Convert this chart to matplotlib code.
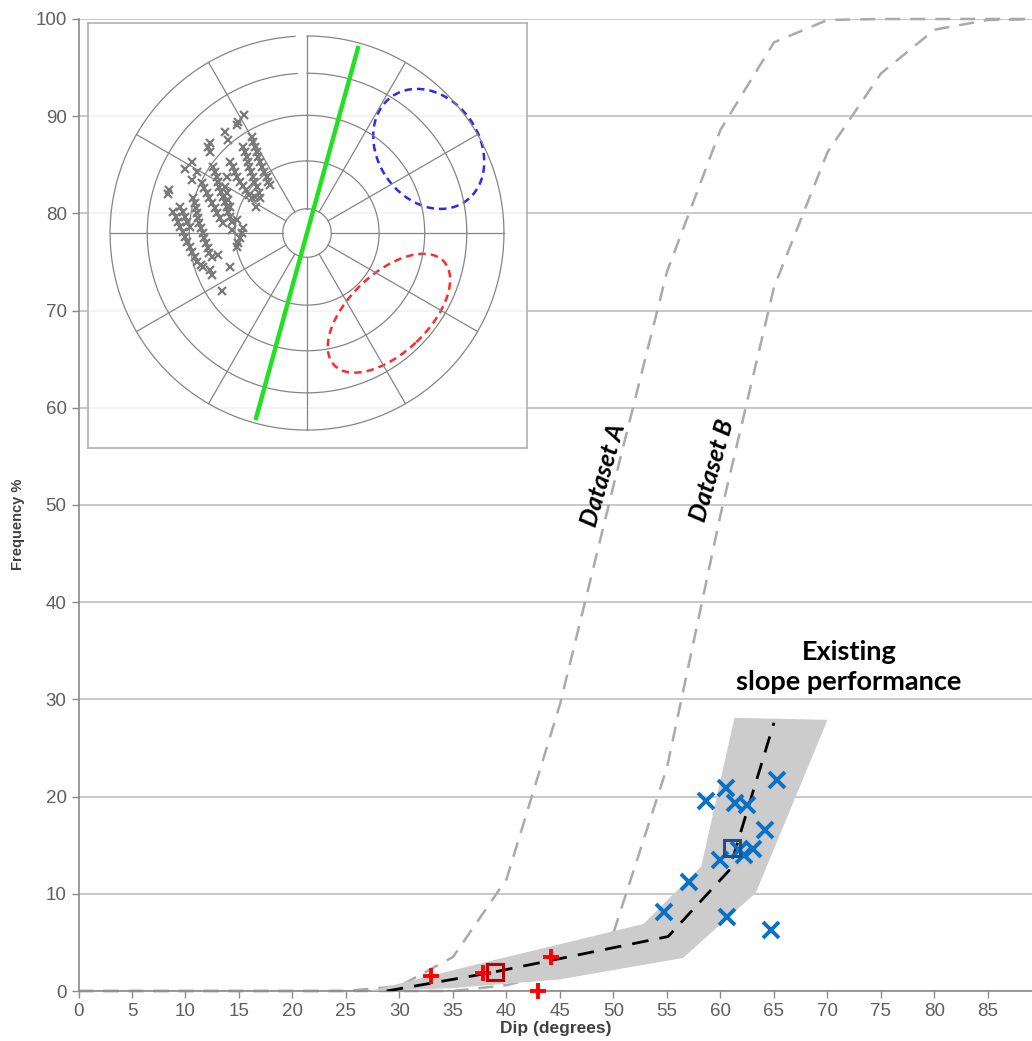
import numpy as np
import matplotlib
matplotlib.use("Agg")
import matplotlib.pyplot as plt
from matplotlib.patches import Ellipse, Polygon

# ---------------- main chart data ----------------
dip_grid = [0, 5, 10, 15, 20, 25, 30, 35, 40, 45, 50, 55, 60, 65, 70, 75, 80, 85, 90]
dataset_a = [0, 0, 0, 0, 0, 0, 0.5, 3.5, 11.5, 29.5, 52, 74, 88.6, 97.6, 99.9, 100, 100, 100, 100]
dataset_b = [0, 0, 0, 0, 0, 0, 0, 0, 0.6, 2.0, 6.0, 23, 49, 72.4, 86.3, 94.4, 98.9, 99.9, 100]

band_upper_x = [27.2, 37.8, 52.8, 58.2, 61.3, 70.0]
band_upper_y = [0, 2.9, 6.9, 12.8, 28.1, 27.9]
band_lower_x = [70.0, 63.3, 56.5, 45.0, 35.0, 27.2]
band_lower_y = [27.9, 10.1, 3.4, 1.2, 0.3, 0]

median_x = [28.8, 38.6, 55.1, 60.8, 65.0]
median_y = [0, 1.9, 5.6, 12.4, 27.6]

red_plus_x = [32.9, 37.8, 44.2, 42.9]
red_plus_y = [1.55, 1.9, 3.5, 0.0]
red_square_x = [38.9]
red_square_y = [2.0]

blue_x_x = [65.3, 60.5, 58.6, 61.4, 62.5, 64.2, 60.0, 61.7, 62.2, 63.0, 57.1, 54.7, 60.6, 64.7]
blue_x_y = [21.7, 20.85, 19.5, 19.3, 19.1, 16.6, 13.5, 14.5, 14.0, 14.6, 11.25, 8.15, 7.65, 6.3]
blue_square_x = [61.1]
blue_square_y = [14.7]

x_ticks = list(range(0, 90, 5))
y_ticks = list(range(0, 101, 10))

# ---------------- stereonet inset data ----------------
net_dip_circles = [10, 30, 50, 70, 90]
net_spoke_azimuths = list(range(0, 360, 30))
green_strike = 15.4
blue_ell = dict(cx=0.618, cy=0.427, a=0.325, b=0.258, ang=-55)
red_ell = dict(cx=0.416, cy=-0.407, a=0.383, b=0.202, ang=43.5)

poles_u = [-0.320, -0.349, -0.357, -0.416, -0.399, -0.492, -0.501, -0.492, -0.585, -0.619, -0.560, -0.585, -0.699, -0.704,
           -0.281, -0.272, -0.264, -0.255, -0.247, -0.239, -0.227, -0.217, -0.205, -0.196, -0.188,
           -0.323, -0.315, -0.306, -0.301, -0.293, -0.286, -0.276, -0.267, -0.255, -0.242,
           -0.391, -0.377, -0.365, -0.354, -0.340, -0.327, -0.310, -0.293, -0.281,
           -0.475, -0.467, -0.459, -0.450, -0.445, -0.438, -0.428, -0.416, -0.408, -0.399, -0.391, -0.382,
           -0.416, -0.408, -0.399, -0.391, -0.408,
           -0.535, -0.523, -0.509, -0.496, -0.484, -0.467, -0.455, -0.442, -0.428,
           -0.577, -0.569, -0.563, -0.557, -0.552, -0.547, -0.540, -0.530, -0.521, -0.513, -0.504, -0.496, -0.484,
           -0.679, -0.665, -0.653, -0.645, -0.631, -0.619, -0.607, -0.594, -0.582, -0.569, -0.557, -0.540, -0.530,
           -0.645, -0.631, -0.619, -0.607, -0.594,
           -0.357, -0.382, -0.323, -0.332, -0.340, -0.349, -0.357, -0.264, -0.239, -0.259,
           -0.450, -0.391, -0.492, -0.484, -0.433]
poles_v = [0.599, 0.565, 0.548, 0.514, 0.472, 0.455, 0.438, 0.413, 0.362, 0.323, 0.311, 0.269, 0.218, 0.198,
           0.489, 0.464, 0.438, 0.413, 0.387, 0.362, 0.337, 0.311, 0.286, 0.261, 0.244,
           0.438, 0.413, 0.387, 0.362, 0.337, 0.311, 0.286, 0.261, 0.232, 0.201,
           0.362, 0.337, 0.311, 0.286, 0.261, 0.239, 0.218, 0.193, 0.176,
           0.337, 0.311, 0.286, 0.261, 0.235, 0.210, 0.184, 0.159, 0.134, 0.108, 0.083, 0.058,
           0.235, 0.201, 0.168, 0.134, 0.286,
           0.252, 0.227, 0.201, 0.176, 0.151, 0.125, 0.100, 0.074, 0.049,
           0.176, 0.151, 0.125, 0.100, 0.074, 0.049, 0.024, -0.002, -0.027, -0.052, -0.078, -0.103, -0.120,
           0.108, 0.083, 0.058, 0.032, 0.007, -0.019, -0.044, -0.069, -0.095, -0.120, -0.146, -0.162, -0.171,
           0.134, 0.108, 0.083, 0.058, 0.032,
           0.066, 0.015, 0.024, -0.002, -0.027, -0.052, -0.069, 0.184, 0.176, 0.134,
           -0.112, -0.171, -0.188, -0.213, -0.293]

# ---------------- figure ----------------
W, H = 1032, 1041
fig = plt.figure(figsize=(W / 100, H / 100), dpi=100)
ax = fig.add_axes([78.5 / W, 1 - 991 / H, (W - 78.5) / W, 972 / H])

ax.set_xlim(0, (W - 78.5) / 10.70)
ax.set_ylim(0, 100)
ax.set_xticks(x_ticks)
ax.set_yticks(y_ticks)
ax.tick_params(axis='both', colors='#8a8a8a', labelcolor='#5f5f5f', labelsize=13.5,
               direction='out', length=5, width=1)
for lab in ax.get_xticklabels() + ax.get_yticklabels():
    lab.set_family(['Liberation Sans', 'DejaVu Sans'])
ax.grid(axis='y', color='#c4c4c4', lw=1.3, zorder=0)
ax.set_axisbelow(True)
for s in ['right', 'top']:
    ax.spines[s].set_visible(False)
for s in ['left', 'bottom']:
    ax.spines[s].set_color('#8a8a8a')
    ax.spines[s].set_linewidth(1.2)

ax.set_xlabel('Dip (degrees)', fontsize=12.5, fontweight='bold', color='#404040',
              family=['Liberation Sans', 'DejaVu Sans'], labelpad=1)
ax.set_ylabel('Frequency %', fontsize=10.5, fontweight='bold', color='#404040',
              family=['Liberation Sans Narrow', 'Liberation Sans', 'DejaVu Sans'])
ax.yaxis.set_label_coords(-0.056, 0.48)

# cumulative datasets
ax.plot(dip_grid, dataset_a, color='#aaaaaa', lw=1.8, dashes=(6, 4), zorder=2, clip_on=False)
ax.plot(dip_grid, dataset_b, color='#aaaaaa', lw=1.8, dashes=(6, 4), zorder=2, clip_on=False)

# band
band_xy = list(zip(band_upper_x, band_upper_y)) + list(zip(band_lower_x, band_lower_y))
ax.add_patch(Polygon(band_xy, closed=True, facecolor='#cccccc', edgecolor='none', zorder=3))

ax.plot(median_x, median_y, color='black', lw=2, dashes=(6, 4), zorder=4)

ax.plot(red_plus_x, red_plus_y, ls='none', marker='+', ms=11, mew=2.8, color='#ff0000', zorder=5, clip_on=False)
ax.plot(red_square_x, red_square_y, ls='none', marker='s', ms=11, mew=2.2, mfc='none', mec='#c00000', zorder=6)
ax.plot(blue_x_x, blue_x_y, ls='none', marker='x', ms=11, mew=2.8, color='#0a72c6', zorder=5)
ax.plot(blue_square_x, blue_square_y, ls='none', marker='s', ms=11, mew=2.2, mfc='none', mec='#1f4e8c', zorder=6)

ax.text(49.1, 53.1, 'Dataset A', rotation=74, ha='center', va='center', fontsize=18,
        fontweight='bold', style='italic', family=['Lato', 'DejaVu Sans'], zorder=7)
ax.text(59.2, 53.6, 'Dataset B', rotation=74, ha='center', va='center', fontsize=18,
        fontweight='bold', style='italic', family=['Lato', 'DejaVu Sans'], zorder=7)
ax.text(72.0, 33.3, 'Existing\nslope performance', ha='center', va='center', fontsize=19.5,
        fontweight='bold', family=['Lato', 'DejaVu Sans'], linespacing=1.3, zorder=7)

# ---------------- stereonet inset ----------------
iax = fig.add_axes([88 / W, 1 - 448 / H, 439 / W, 425 / H], zorder=10)
iax.set_xlim(-1.112, 1.117)
iax.set_ylim(-1.091, 1.066)
iax.patch.set_facecolor('white')
iax.patch.set_alpha(0.8)
iax.set_xticks([])
iax.set_yticks([])
for s in iax.spines.values():
    s.set_color('#b0b0b0')
    s.set_linewidth(1.2)

net_color = '#858585'
radii = [np.sqrt(2) * np.sin(np.radians(d / 2)) for d in net_dip_circles]
for d, r in zip(net_dip_circles, radii):
    gap = 3.5 if d >= 70 else 0.0
    th = np.radians(np.linspace(90 + gap, 450, 720))
    iax.plot(r * np.cos(th), r * np.sin(th), color=net_color, lw=0.9)
r_in, r_out = radii[0], radii[-1]
for az in net_spoke_azimuths:
    t = np.radians(az)
    iax.plot([r_in * np.sin(t), r_out * np.sin(t)], [r_in * np.cos(t), r_out * np.cos(t)],
             color=net_color, lw=0.9)

iax.plot(poles_u, poles_v, ls='none', marker='x', ms=5.5, mew=1.6, color='#7a7a7a')

t = np.radians(green_strike)
iax.plot([-np.sin(t) * 0.985, np.sin(t) * 0.985], [-np.cos(t) * 0.985, np.cos(t) * 0.985],
         color='#22e022', lw=3.2, solid_capstyle='butt')

for e, col in [(blue_ell, '#2b2bf0'), (red_ell, '#ff2b2b')]:
    iax.add_patch(Ellipse((e['cx'], e['cy']), 2 * e['a'], 2 * e['b'], angle=e['ang'],
                          fill=False, edgecolor=col, lw=1.8, linestyle=(0, (3, 2))))

fig.savefig('out.png', dpi=100)
